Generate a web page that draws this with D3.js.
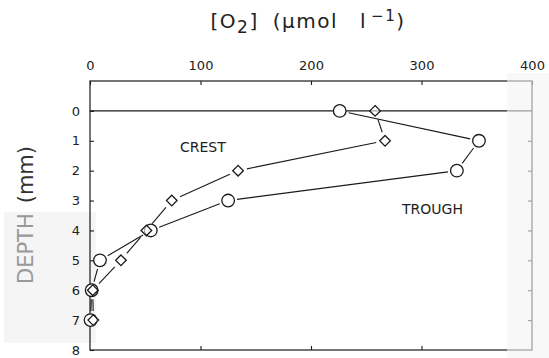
<!DOCTYPE html>
<html>
<head>
<meta charset="utf-8">
<script src="https://cdn.jsdelivr.net/npm/d3@7"></script>
<style>
  html, body { margin: 0; padding: 0; background: #fff; }
  svg { display: block; font-family: "DejaVu Sans", "Liberation Sans", Arial, sans-serif; }
</style>
</head>
<body>
<svg id="chart" width="549" height="358"></svg>
<script>
// Oxygen concentration profiles in sediment: crest vs trough of a ripple
const depths = [0, 1, 2, 3, 4, 5, 6, 7];
const crestO2 = [258, 267, 134, 74, 51, 28, 2.5, 3];
const troughO2 = [226, 352, 332, 125, 55, 9, 1.5, 0.5];
const xTicks = [0, 100, 200, 300, 400];
const yTicks = [0, 1, 2, 3, 4, 5, 6, 7, 8];

const svg = d3.select("#chart");
const ink = "#1a1a1a";
const font = "'DejaVu Sans', 'Liberation Sans', Arial, sans-serif";

const x = d3.scaleLinear().domain([0, 400]).range([90, 532]);
const y = d3.scaleLinear().domain([-1, 8]).range([81, 350]);

// faint scan tint behind the left margin
svg.append("rect").attr("x", 4).attr("y", 212).attr("width", 92).attr("height", 131)
  .attr("fill", "#f5f5f5");

// frame
svg.append("rect")
  .attr("x", x(0)).attr("y", y(-1))
  .attr("width", x(400) - x(0)).attr("height", y(8) - y(-1))
  .attr("fill", "none").attr("stroke", ink).attr("stroke-width", 1.2);

// sediment surface
svg.append("line")
  .attr("x1", x(0)).attr("x2", x(400))
  .attr("y1", y(0)).attr("y2", y(0))
  .attr("stroke", ink).attr("stroke-width", 1.3);

function styleAxis(g) {
  g.select(".domain").remove();
  g.selectAll(".tick line").attr("stroke", ink).attr("stroke-width", 1.1);
  g.selectAll(".tick text").attr("fill", "#222").style("font-size", "13px")
    .style("font-family", font);
}

// top axis with labels, ticks pointing inward
svg.append("g")
  .attr("transform", `translate(0,${y(-1)})`)
  .call(d3.axisTop(x).tickValues(xTicks).tickSizeInner(-4).tickSizeOuter(0).tickPadding(11))
  .call(styleAxis);

// bottom axis, ticks only
svg.append("g")
  .attr("transform", `translate(0,${y(8)})`)
  .call(d3.axisBottom(x).tickValues(xTicks.slice(1, -1)).tickSizeInner(-4).tickSizeOuter(0).tickFormat(""))
  .call(styleAxis);

// left axis with depth labels
svg.append("g")
  .attr("transform", `translate(${x(0)},0)`)
  .call(d3.axisLeft(y).tickValues(yTicks).tickSizeInner(-4).tickSizeOuter(0).tickPadding(10).tickFormat(d3.format("d")))
  .call(styleAxis);

// right axis, ticks only
svg.append("g")
  .attr("transform", `translate(${x(400)},0)`)
  .call(d3.axisRight(y).tickValues(yTicks.slice(1, -1)).tickSizeInner(-4).tickSizeOuter(0).tickFormat(""))
  .call(styleAxis);

// connecting lines, broken short of each marker
function drawProfile(values, gap) {
  const pts = depths.map((d, i) => [x(values[i]), y(d)]);
  const g = svg.append("g");
  for (let i = 0; i < pts.length - 1; i++) {
    const [x1, y1] = pts[i], [x2, y2] = pts[i + 1];
    const len = Math.hypot(x2 - x1, y2 - y1);
    if (len <= 2 * gap) continue;
    const ux = (x2 - x1) / len, uy = (y2 - y1) / len;
    g.append("line")
      .attr("x1", x1 + ux * gap).attr("y1", y1 + uy * gap)
      .attr("x2", x2 - ux * gap).attr("y2", y2 - uy * gap)
      .attr("stroke", ink).attr("stroke-width", 1.1);
  }
}
drawProfile(troughO2, 9);
drawProfile(crestO2, 9);

// trough markers: open circles
svg.append("g").selectAll("circle")
  .data(depths.map((d, i) => ({ depth: d, v: troughO2[i] })))
  .join("circle")
  .attr("cx", d => x(d.v)).attr("cy", d => y(d.depth)).attr("r", 6.3)
  .attr("fill", "white").attr("stroke", ink).attr("stroke-width", 1.3);

// crest markers: open diamonds
const diamond = d3.symbol().type(d3.symbolDiamond2).size(72);
svg.append("g").selectAll("path")
  .data(depths.map((d, i) => ({ depth: d, v: crestO2[i] })))
  .join("path")
  .attr("d", diamond)
  .attr("transform", d => `translate(${x(d.v)},${y(d.depth)})`)
  .attr("fill", "white").attr("fill-opacity", 0.6).attr("stroke", ink).attr("stroke-width", 1.3);

// series labels
svg.append("text").attr("x", 180).attr("y", 152).text("CREST")
  .attr("fill", "#222").style("font-size", "14px");
svg.append("text").attr("x", 402).attr("y", 214).text("TROUGH")
  .attr("fill", "#222").style("font-size", "14px");

// x axis title: [O2] (μmol l−1)
const title = svg.append("text")
  .attr("x", 308).attr("y", 28)
  .attr("text-anchor", "middle")
  .attr("fill", "#222").style("font-size", "20px")
  .style("letter-spacing", "1.5px");
title.append("tspan").text("[O");
title.append("tspan").attr("dy", 5).style("font-size", "17px").text("2");
title.append("tspan").attr("dy", -5).text("]");
title.append("tspan").attr("dx", 14).text("(μmol");
title.append("tspan").attr("dx", 22).text("l");
title.append("tspan").attr("dx", 4).attr("dy", -7).style("font-size", "15px").text("−1");
title.append("tspan").attr("dy", 7).text(")");

// y axis title
const ytitle = svg.append("text")
  .attr("transform", "translate(33,215) rotate(-90)")
  .attr("text-anchor", "middle")
  .style("font-size", "21px");
ytitle.append("tspan").attr("fill", "#999").text("DEPTH");
ytitle.append("tspan").attr("dx", 10).attr("fill", "#333").text("(mm)");

// faded scan patch over the right margin
svg.append("rect").attr("x", 507).attr("y", 73).attr("width", 42).attr("height", 285)
  .attr("fill", "#f3f3f3").attr("opacity", 0.6);
</script>
</body>
</html>
